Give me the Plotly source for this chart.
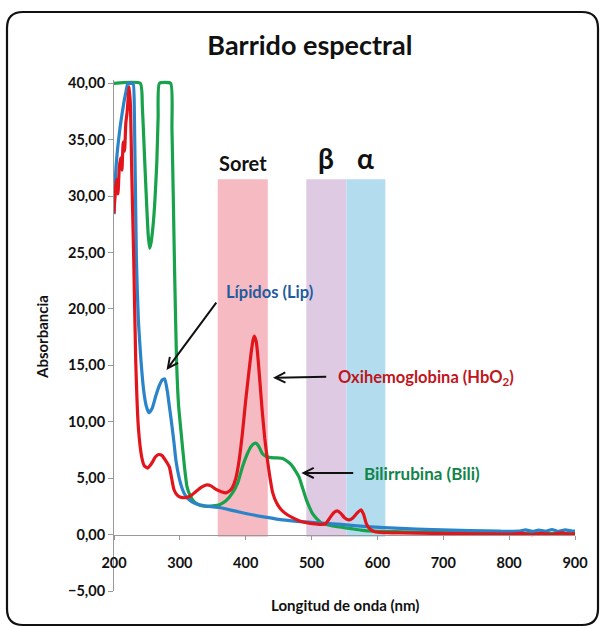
import plotly.graph_objects as go

# ---------------- data ----------------
lip_nm = [200,203,206,209,212,215,218,221,225,229,231,234,237,241,245,249,253,258,263,268,
          273,277,281,284,287,291,294,299,304,309,315,322,330,345,360,383,406,430,456,482,
          508,545,584,635,684,740,786,815,825,835,845,855,865,875,885,895,900]
lip_abs = [28.4,32.5,34.5,36,37.2,38.3,39.2,40,40,40,37,24.4,19,15.4,12.8,11.4,10.8,11.2,12.2,13.1,
           13.7,13.8,12.7,11.4,10.1,8.2,6.6,5.0,4.0,3.4,3.05,2.8,2.65,2.5,2.4,2.1,1.8,1.55,1.3,1.15,
           1.05,0.9,0.7,0.55,0.44,0.36,0.3,0.3,0.42,0.28,0.4,0.3,0.45,0.28,0.42,0.32,0.3]

hbo2_nm = [200,202,204,206,208,210,212,214,216,218,220,223,225,227,230,233,237,242,246,251,
           257,263,268,273,278,284,291,296,302,311,318,324,333,341,348,355,363,370,376,380,
           385,390,395,400,404,408,411,413,416,419,422,425,429,433,437,441,447,454,462,471,
           482,492,505,515,522,528,534,539,544,550,557,563,569,575,579,583,587,592,596,610,
           634,684,750,800,820,835,850,865,880,890,900]
hbo2_abs = [28.5,30.5,31.5,30.2,32.5,33.4,32.3,34.8,34.0,36.5,37.5,39.7,38.0,32.0,24.3,15.4,9.5,6.9,6.1,5.9,
            6.3,6.9,7.1,7.0,6.6,6.0,4.0,3.5,3.3,3.3,3.5,3.8,4.2,4.4,4.3,4.0,3.8,3.7,3.9,4.2,
            5.0,6.6,9.0,11.9,14.0,16.0,17.2,17.6,17.1,15.4,13.2,11.0,8.5,6.6,5.0,3.7,2.8,2.2,1.8,1.5,
            1.2,1.06,0.95,0.9,1.0,1.5,1.95,2.1,1.9,1.5,1.3,1.5,1.9,2.2,1.8,1.0,0.6,0.35,0.25,0.18,
            0.15,0.1,0.07,0.05,0.1,0.0,0.12,0.02,0.15,0.05,0.1]

bili_nm = [200,240,243,246,249,252,254,256,259,262,265,267,269,286,288,290,292,295,298,302,
           307,311,316,322,330,340,350,360,370,380,388,395,402,408,412,416,420,425,430,436,
           446,456,463,469,475,481,486,492,497,501,508,516,530,545,558,575,593,640,684,750,
           800,850,900]
bili_abs = [40,40,38,34,30,26.5,25.4,25.8,27.2,29.5,33,37,40,40,36,30,23.4,15.4,11.5,9.0,
            6.0,4.2,3.4,2.9,2.6,2.5,2.55,2.65,3.0,3.7,4.6,6.0,7.1,7.8,8.05,8.1,7.8,7.2,6.95,6.85,
            6.8,6.75,6.5,6.2,5.7,5.1,4.2,3.1,2.4,1.9,1.4,1.0,0.8,0.65,0.55,0.4,0.3,0.25,0.2,0.15,
            0.12,0.1,0.1]

band_labels = ["Soret", "β", "α"]
band_start = [357.5, 492, 553]
band_end = [433.5, 553, 612]
band_top = 31.5

x_ticks = [200, 300, 400, 500, 600, 700, 800, 900]
y_ticks = [-5, 0, 5, 10, 15, 20, 25, 30, 35, 40]

# ---------------- layout helpers ----------------
W, H = 604, 628
ML, MR, MT, MB = 114, 29, 80, 37
PW, PH = W - ML - MR, H - MT - MB
YMIN, YMAX = -5, 40.3

def px(x):
    return (x - ML) / PW

def py(y):
    return (H - MB - y) / PH

FONT = "Lato"
band_colors = ["#F5BAC2", "#DECBE3", "#B3DDEE"]
band_label_sizes = [20, 28, 28]

fig = go.Figure()

for nm, ab, col, name in [
    (bili_nm, bili_abs, "#17A24B", "Bili"),
    (lip_nm, lip_abs, "#2B84C9", "Lip"),
    (hbo2_nm, hbo2_abs, "#E3151C", "HbO2"),
]:
    fig.add_trace(go.Scatter(x=nm, y=ab, mode="lines", name=name,
                             line=dict(color=col, width=3.2, shape="spline", smoothing=0.5),
                             showlegend=False, hoverinfo="skip"))

shapes = []
annotations = []
for lab, x0, x1, c, fs in zip(band_labels, band_start, band_end, band_colors, band_label_sizes):
    shapes.append(dict(type="rect", xref="x", yref="y", x0=x0, x1=x1, y0=-0.2, y1=band_top,
                       fillcolor=c, line=dict(width=0), layer="below"))
    annotations.append(dict(xref="x", yref="y", x=(x0 + x1) / 2, y=band_top, xanchor="center",
                            yanchor="bottom", yshift=2, text=lab, showarrow=False,
                            font=dict(family=FONT, size=fs, color="#111", weight="bold")))

# rounded border
bx0, bx1, by0, by1, r = 7, 598, 12, 625, 16
def P(x, y):
    return f"{px(x):.5f},{py(y):.5f}"
path = (f"M {P(bx0 + r, by0)} L {P(bx1 - r, by0)} Q {P(bx1, by0)} {P(bx1, by0 + r)} "
        f"L {P(bx1, by1 - r)} Q {P(bx1, by1)} {P(bx1 - r, by1)} "
        f"L {P(bx0 + r, by1)} Q {P(bx0, by1)} {P(bx0, by1 - r)} "
        f"L {P(bx0, by0 + r)} Q {P(bx0, by0)} {P(bx0 + r, by0)} Z")
shapes.append(dict(type="path", xref="paper", yref="paper", path=path,
                   line=dict(color="#111", width=2.2), layer="above"))

# curve labels
annotations += [
    dict(xref="paper", yref="paper", x=px(269), y=py(292), xanchor="center", yanchor="middle",
         text="Lípidos (Lip)", showarrow=False,
         font=dict(family=FONT, size=16.5, color="#1F5C9E", weight="bold")),
    dict(xref="paper", yref="paper", x=px(336), y=py(377), xanchor="left", yanchor="middle",
         text="Oxihemoglobina (HbO<sub>2</sub>)", showarrow=False,
         font=dict(family=FONT, size=16.5, color="#C0151D", weight="bold")),
    dict(xref="paper", yref="paper", x=px(362), y=py(473), xanchor="left", yanchor="middle",
         text="Bilirrubina (Bili)", showarrow=False,
         font=dict(family=FONT, size=17, color="#12844A", weight="bold")),
]
# arrows (tail -> head), in data coordinates
for (hx, hy, tx, ty) in [(279.8, 14.6, 357.0, 20.7), (441.4, 13.9, 524.5, 14.0), (484.5, 5.47, 565.5, 5.47)]:
    annotations.append(dict(xref="x", yref="y", axref="x", ayref="y", x=hx, y=hy, ax=tx, ay=ty,
                            text="", showarrow=True, arrowhead=5, arrowsize=1.0, arrowwidth=2,
                            arrowcolor="#111"))

# axis titles
annotations += [
    dict(xref="paper", yref="paper", x=px(345), y=py(605), xanchor="center", yanchor="middle",
         text="Longitud de onda (nm)", showarrow=False,
         font=dict(family=FONT, size=15, color="#111", weight="bold")),
    dict(xref="paper", yref="paper", x=px(42), y=py(337), xanchor="center", yanchor="middle",
         text="Absorbancia", textangle=-90, showarrow=False,
         font=dict(family=FONT, size=15, color="#111", weight="bold")),
]

fig.update_layout(
    width=W, height=H,
    margin=dict(l=ML, r=MR, t=MT, b=MB),
    paper_bgcolor="white", plot_bgcolor="white",
    separators=",.",
    title=dict(text="Barrido espectral", x=0.513, xref="container", y=1 - 46 / H, yref="container",
               xanchor="center", yanchor="middle",
               font=dict(family=FONT, size=27, color="#111", weight="bold")),
    shapes=shapes, annotations=annotations,
    xaxis=dict(range=[200, 900], tickvals=x_ticks, anchor="free", position=5 / (YMAX - YMIN),
               showline=True, linecolor="#999", linewidth=1, ticks="outside", ticklen=4,
               tickcolor="#999", showgrid=False, zeroline=False, ticklabelstandoff=11,
               tickfont=dict(family=FONT, size=14.5, color="#111", weight="bold")),
    yaxis=dict(range=[YMIN, YMAX], tickvals=y_ticks, tickformat=".2f", showline=True,
               linecolor="#999", linewidth=1, ticks="outside", ticklen=5, tickcolor="#999",
               showgrid=False, zeroline=False,
               tickfont=dict(family=FONT, size=14.5, color="#111", weight="bold")),
)

fig.write_html("out.html", config={"displayModeBar": False},
               post_script="document.body.style.margin='0';document.body.style.overflow='hidden';")
